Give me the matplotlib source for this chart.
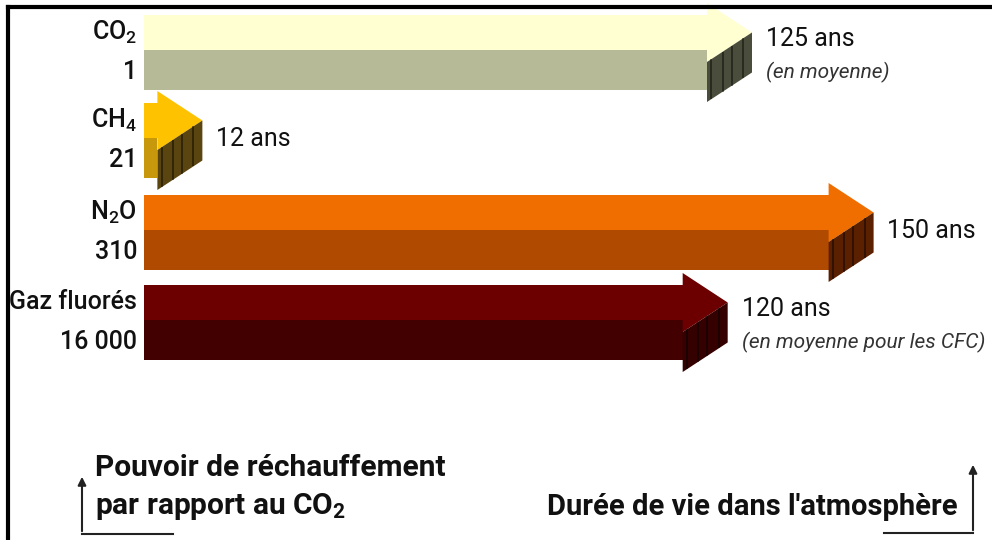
import numpy as np
import matplotlib.pyplot as plt
from matplotlib.patches import Polygon

plt.rcParams['font.family'] = ['Roboto', 'DejaVu Sans']
plt.rcParams['mathtext.default'] = 'regular'

# données
gaz = ['CO$_2$', 'CH$_4$', 'N$_2$O', 'Gaz fluorés']
pouvoir = ['1', '21', '310', '16 000']
duree = [125, 12, 150, 120]
duree_txt = ['125 ans', '12 ans', '150 ans', '120 ans']
notes = ['(en moyenne)', '', '', '(en moyenne pour les CFC)']
c_dessus = ['#FFFFD2', '#FFC200', '#F06E00', '#6C0000']
c_face = ['#B6BA97', '#C8980C', '#B04A00', '#420000']
c_cote = ['#4A4D3C', '#5A4510', '#5A2000', '#340000']

W, H = 992, 540
X0 = 144          # pixel de départ des flèches
K = 4.864         # pixels par année
TOP = [15, 103, 195, 285]   # haut de la face supérieure (px)
PROF = 35         # profondeur de la face supérieure
EP = 40           # épaisseur
BARB = 12
HEAD = 45

fig = plt.figure(figsize=(W / 100, H / 100), dpi=100)
ax = fig.add_axes([0, 0, 1, 1])
ax.set_xlim(-X0 / K, (W - X0) / K)
ax.set_ylim(H, 0)
ax.axis('off')

deco = fig.add_axes([0, 0, 1, 1], facecolor='none')
deco.set_xlim(0, W)
deco.set_ylim(H, 0)
deco.axis('off')

for i in range(len(gaz)):
    yt = TOP[i]
    yb = yt + PROF
    ym = (yt + yb) / 2
    tip = duree[i]
    xh = tip - HEAD / K
    # face avant du corps
    ax.add_patch(Polygon([(0, yb), (xh, yb), (xh, yb + EP), (0, yb + EP)],
                         closed=True, fc=c_face[i], ec='none'))
    # face supérieure (forme de flèche)
    pts = [(0, yt), (xh, yt), (xh, yt - BARB), (tip, ym),
           (xh, yb + BARB), (xh, yb), (0, yb)]
    ax.add_patch(Polygon(pts, closed=True, fc=c_dessus[i], ec='none'))
    # côté de la pointe
    y1 = yb + BARB
    ax.add_patch(Polygon([(xh, y1), (tip, ym), (tip, ym + EP), (xh, y1 + EP)],
                         closed=True, fc=c_cote[i], ec='none'))
    # bandes verticales sombres
    for s in [0.1, 0.35, 0.55, 0.8]:
        xs = xh + (tip - xh) * s
        ys = y1 + (ym - y1) * s
        ax.plot([xs, xs], [ys + 1, ys + EP - 1], color='black', lw=1.4, alpha=0.45)

    # étiquettes à gauche
    ax.annotate(gaz[i], (0, yt + 17), xytext=(-5, 0), textcoords='offset points',
                ha='right', va='center', fontsize=18, fontweight='medium', color='#111111')
    ax.annotate(pouvoir[i], (0, yb + EP / 2 + 2), xytext=(-5, 0), textcoords='offset points',
                ha='right', va='center', fontsize=18, fontweight='medium', color='#111111')
    # durée à droite
    dy = 24 if notes[i] else 36
    ax.annotate(duree_txt[i], (tip, yt + dy), xytext=(10, 0), textcoords='offset points',
                ha='left', va='center', fontsize=18, color='#111111')
    if notes[i]:
        ax.annotate(notes[i], (tip, yt + dy + 33), xytext=(10, 0), textcoords='offset points',
                    ha='left', va='center', fontsize=15, style='italic', color='#333333')

# cadre
deco.plot([8, W], [7, 7], color='black', lw=3)
deco.plot([8, 8], [7, H], color='black', lw=3)

# légendes du bas
deco.text(95, 468, 'Pouvoir de réchauffement', fontsize=21.5, fontweight='bold',
          ha='left', va='center', color='#111111')
deco.text(95, 506, 'par rapport au CO$_2$', fontsize=21.5, fontweight='bold',
          ha='left', va='center', color='#111111')
deco.plot([173, 82], [534, 534], color='#222222', lw=1.5)
deco.annotate('', xy=(82, 474), xytext=(82, 534),
              arrowprops=dict(arrowstyle='-|>', color='#222222', lw=1.5, mutation_scale=12))

deco.text(958, 507, "Durée de vie dans l'atmosphère", fontsize=21, fontweight='bold',
          ha='right', va='center', color='#111111')
deco.plot([884, 973], [533, 533], color='#222222', lw=1.5)
deco.annotate('', xy=(973, 462), xytext=(973, 533),
              arrowprops=dict(arrowstyle='-|>', color='#222222', lw=1.5, mutation_scale=12))

fig.savefig('out.png', dpi=100, facecolor='white')
